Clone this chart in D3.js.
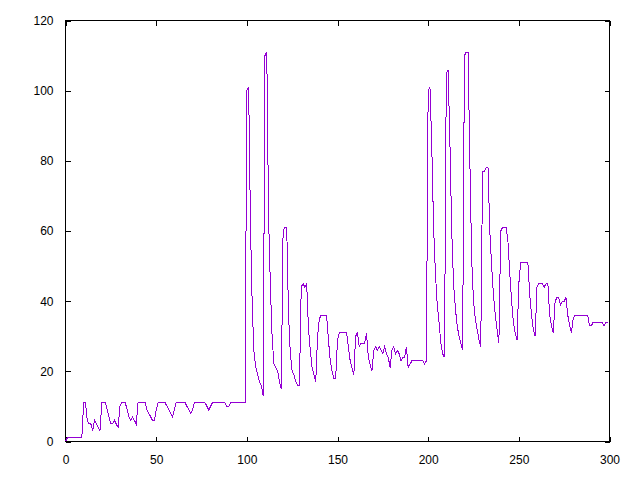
<!DOCTYPE html>
<html>
<head>
<meta charset="utf-8">
<script src="https://cdn.jsdelivr.net/npm/d3@7"></script>
<style>
  html, body { margin: 0; padding: 0; background: #fff; }
  svg { display: block; }
  .tick text { font-family: "Liberation Sans", Arial, sans-serif; font-size: 12px; fill: #000; }
</style>
</head>
<body>
<svg id="chart" width="640" height="480"></svg>
<script>
// ---- data (x = index 0..299) ----
const values = [
  0,1,1,1,1,1,1,1,1,1,
  11,11,6,5,5,3,6,5,4,3,
  11,11,11,9,7,5,5,6,5,4,
  10,11,11,11,9,7,6,7,6,5,
  11,11,11,11,11,9,8,7,6,6,
  9,11,11,11,11,11,10,9,8,7,
  9,11,11,11,11,11,11,10,9,8,
  9,11,11,11,11,11,11,11,10,9,
  10,11,11,11,11,11,11,11,11,10,
  10,11,11,11,11,11,11,11,11,11,
  100,101,62,38,25,21,19,17,16,13,
  110,111,64,44,29,22,21,20,17,15,
  60,61,61,36,25,20,19,17,16,16,
  44,45,44,45,32,26,21,19,17,30,
  35,36,36,36,36,29,23,20,18,18,
  29,31,31,31,31,31,27,23,21,19,
  30,31,27,28,28,28,31,24,22,20,
  26,27,26,27,26,25,27,25,24,21,
  26,27,25,26,25,23,24,24,27,21,
  22,23,23,23,23,23,23,23,22,23,
  100,101,84,61,48,39,34,28,25,24,
  105,106,85,60,45,38,33,30,28,26,
  110,111,111,80,52,40,35,32,29,27,
  77,77,78,78,60,50,42,36,32,28,
  60,61,61,61,57,48,40,34,31,29,
  45,51,51,51,51,51,42,36,32,30,
  44,45,45,45,44,45,45,36,33,31,
  40,41,41,39,40,40,41,36,33,31,
  35,36,36,36,36,36,36,36,36,33,
  33,34,34,34,34,34,34,33,34,34
];
const xTicks = [0, 50, 100, 150, 200, 250, 300];
const yTicks = [0, 20, 40, 60, 80, 100, 120];
const xDomain = [0, 300];
const yDomain = [0, 120];

// ---- layout ----
const mLeft = 65.5, mRight = 609.5, mTop = 20.5, mBottom = 441.5;
const svg = d3.select("#chart");
svg.append("rect").attr("width", 640).attr("height", 480).attr("fill", "#fff");

const x = d3.scaleLinear().domain(xDomain).range([mLeft, mRight]);
const y = d3.scaleLinear().domain(yDomain).range([mBottom, mTop]);

// axes with inward ticks on all four sides
const tl = 5;
const gB = svg.append("g").attr("transform", `translate(0,${mBottom})`)
  .call(d3.axisBottom(x).tickValues(xTicks).tickSizeInner(-tl).tickSizeOuter(0).tickPadding(16));
const gT = svg.append("g").attr("transform", `translate(0,${mTop})`)
  .call(d3.axisTop(x).tickValues(xTicks).tickSizeInner(-tl).tickSizeOuter(0).tickFormat(""));
const gL = svg.append("g").attr("transform", `translate(${mLeft},0)`)
  .call(d3.axisLeft(y).tickValues(yTicks).tickSizeInner(-tl).tickSizeOuter(0).tickPadding(12));
const gR = svg.append("g").attr("transform", `translate(${mRight},0)`)
  .call(d3.axisRight(y).tickValues(yTicks).tickSizeInner(-tl).tickSizeOuter(0).tickFormat(""));
[gB, gT, gL, gR].forEach(g => {
  g.select(".domain").remove();
  g.selectAll(".tick line").attr("stroke", "#000").attr("shape-rendering", "crispEdges");
  g.attr("font-family", null).attr("font-size", null);
});
gB.selectAll(".tick text").attr("dy", "0.5em");

// frame
svg.append("rect")
  .attr("x", mLeft).attr("y", mTop)
  .attr("width", mRight - mLeft).attr("height", mBottom - mTop)
  .attr("fill", "none").attr("stroke", "#000").attr("stroke-width", 1)
  .attr("shape-rendering", "crispEdges");

// data line
const line = d3.line().x((d, i) => x(i)).y(d => y(d));
svg.append("path")
  .datum(values)
  .attr("d", line)
  .attr("fill", "none")
  .attr("stroke", "#9400d3")
  .attr("stroke-width", 1)
  .attr("shape-rendering", "crispEdges");
</script>
</body>
</html>
